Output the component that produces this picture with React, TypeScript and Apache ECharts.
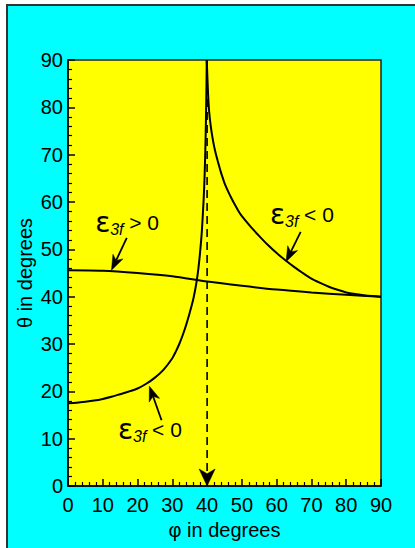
import { useEffect, useRef } from "react";
import * as echarts from "echarts";

// Axis range shared by φ and θ (degrees)
const AXIS_MIN = 0;
const AXIS_MAX = 90;
const AXIS_STEP = 10;

// Branch of ε3f = 0 starting at low θ and rising to the asymptote
const lowerPhi = [0, 2.5, 5, 7.5, 10, 12.5, 15, 17.5, 20, 22.5, 25, 27.5, 30, 31, 32, 33, 34, 35, 36, 36.5, 37, 37.5, 38, 38.5, 39, 39.3, 39.55, 39.75, 39.9];
const lowerTheta = [17.5, 17.6, 17.8, 18.05, 18.4, 18.85, 19.4, 19.95, 20.6, 21.6, 22.9, 24.6, 27.0, 28.4, 30.0, 31.9, 34.1, 36.6, 39.4, 41.2, 43.3, 46.0, 49.5, 54.0, 60.5, 66.0, 73.0, 81.0, 90.0];

// Branch falling from the asymptote towards φ = 90
const upperPhi = [39.9, 40.1, 40.3, 40.6, 41, 41.5, 42, 42.5, 43, 43.5, 44, 44.5, 45, 46, 47, 48, 49, 50, 52.5, 55, 57.5, 60, 62.5, 65, 67.5, 70, 72.5, 75, 77.5, 80, 82.5, 85, 87.5, 90];
const upperTheta = [90, 86, 82.5, 79, 76.3, 73.8, 71.8, 70.2, 68.8, 67.5, 66.2, 65.1, 64, 62.3, 60.8, 59.4, 58.1, 57, 54.8, 52.8, 50.9, 49.2, 47.7, 46.3, 45.0, 43.8, 42.9, 42.1, 41.45, 40.9, 40.55, 40.3, 40.12, 40];

// Nearly flat boundary
const flatPhi = [0, 10, 20, 30, 40, 50, 60, 70, 80, 90];
const flatTheta = [45.6, 45.5, 45.0, 44.3, 43.2, 42.3, 41.5, 40.9, 40.4, 40.0];

// Critical angle marked by the dashed arrow
const criticalPhi = 40;

// Region labels: anchor [φ, θ] of the ε glyph and the sign shown
const labelPhi = [7.8, 14.4, 58.1];
const labelTheta = [55.6, 11.9, 57.3];
const labelSign = [">", "<", "<"];

// Pointer arrows from each label to its curve
const arrowFromPhi = [16.9, 26.9, 66.9];
const arrowFromTheta = [52.4, 13.9, 53.7];
const arrowToPhi = [12.5, 23.4, 62.7];
const arrowToTheta = [45.6, 21.1, 47.4];

const FONT = '"Liberation Sans", Arial, sans-serif';

const pairs = (xs: number[], ys: number[]) => xs.map((x, i) => [x, ys[i]]);

function axisBase(name: string, nameGap: number, labelMargin: number) {
  return {
    type: "value" as const,
    min: AXIS_MIN,
    max: AXIS_MAX,
    interval: AXIS_STEP,
    name,
    nameLocation: "middle" as const,
    nameGap,
    nameMoveOverlap: false,
    nameTextStyle: { color: "#000", fontSize: 20, fontFamily: FONT },
    axisLine: { show: true, onZero: false, lineStyle: { color: "#000", width: 1.5 } },
    axisTick: { show: true, inside: true, length: 7, lineStyle: { color: "#000", width: 1.5 } },
    minorTick: { show: true, splitNumber: 5, length: 4, lineStyle: { color: "#000", width: 1.2 } },
    splitLine: { show: false },
    minorSplitLine: { show: false },
    axisLabel: { color: "#000", fontSize: 20, fontFamily: FONT, margin: labelMargin },
  };
}

function arrowGraphics(p0: number[], p1: number[], headW: number, headL: number, dashed: boolean) {
  const dx = p1[0] - p0[0];
  const dy = p1[1] - p0[1];
  const len = Math.hypot(dx, dy) || 1;
  const ux = dx / len;
  const uy = dy / len;
  const px = -uy;
  const py = ux;
  const bx = p1[0] - ux * headL;
  const by = p1[1] - uy * headL;
  const nx = p1[0] - ux * headL * 0.72;
  const ny = p1[1] - uy * headL * 0.72;
  return [
    {
      type: "line",
      z: 50,
      shape: { x1: p0[0], y1: p0[1], x2: nx, y2: ny },
      style: { stroke: "#000", lineWidth: dashed ? 1.6 : 1.8, lineDash: dashed ? [8, 5] : null },
    },
    {
      type: "polygon",
      z: 51,
      shape: {
        points: [
          [p1[0], p1[1]],
          [bx + (px * headW) / 2, by + (py * headW) / 2],
          [nx, ny],
          [bx - (px * headW) / 2, by - (py * headW) / 2],
        ],
      },
      style: { fill: "#000", stroke: "#000", lineWidth: 0.5 },
    },
  ];
}

export default function App() {
  const ref = useRef<HTMLDivElement>(null);

  useEffect(() => {
    document.body.style.margin = "0";
    if (!ref.current) return;
    const chart = echarts.init(ref.current, undefined, { renderer: "svg" });

    const curve = (xs: number[], ys: number[]) => ({
      type: "line",
      data: pairs(xs, ys),
      showSymbol: false,
      smooth: 0.25,
      lineStyle: { color: "#000", width: 2 },
      z: 10,
    });

    chart.setOption({
      animation: false,
      backgroundColor: "#00ffff",
      grid: {
        left: 68,
        top: 60,
        right: 34,
        bottom: 62,
        show: true,
        backgroundColor: "#ffff00",
        borderColor: "#222",
        borderWidth: 1.5,
      },
      xAxis: axisBase("φ in degrees", 34, 9),
      yAxis: axisBase("θ in degrees", 33, 5),
      series: [
        curve(lowerPhi, lowerTheta),
        curve(upperPhi, upperTheta),
        curve(flatPhi, flatTheta),
      ],
    });

    const toPx = (phi: number, theta: number) =>
      chart.convertToPixel({ gridIndex: 0 }, [phi, theta]) as number[];

    const graphics: any[] = [
      // page frame
      { type: "rect", z: 60, shape: { x: 0, y: 0, width: 415, height: 4 }, style: { fill: "#fff" } },
      { type: "rect", z: 60, shape: { x: 0, y: 0, width: 6, height: 548 }, style: { fill: "#fff" } },
      { type: "line", z: 61, shape: { x1: 6, y1: 5, x2: 415, y2: 5 }, style: { stroke: "#333", lineWidth: 2 } },
      { type: "line", z: 61, shape: { x1: 7, y1: 4, x2: 7, y2: 548 }, style: { stroke: "#333", lineWidth: 2 } },
    ];

    // dashed arrow at the critical angle
    graphics.push(
      ...arrowGraphics(toPx(criticalPhi, AXIS_MAX), toPx(criticalPhi, AXIS_MIN), 16, 17, true)
    );

    const txt = (x: number, y: number, text: string, font: string) => ({
      type: "text",
      x,
      y,
      style: {
        text,
        fill: "#000",
        font,
        textAlign: "left",
        textVerticalAlign: "middle",
        align: "left",
        verticalAlign: "middle",
      },
    });

    labelPhi.forEach((phi, i) => {
      const [x, y] = toPx(phi, labelTheta[i]);
      graphics.push({
        type: "group",
        x,
        y,
        z: 55,
        children: [
          txt(0, 0, "ε", '28px "DejaVu Sans", sans-serif'),
          txt(15, 7, "3f", `italic 16px ${FONT}`),
          txt(34, 0, `${labelSign[i]} 0`, `21px ${FONT}`),
        ],
      });
      graphics.push(
        ...arrowGraphics(
          toPx(arrowFromPhi[i], arrowFromTheta[i]),
          toPx(arrowToPhi[i], arrowToTheta[i]),
          11,
          15,
          false
        )
      );
    });

    chart.setOption({ graphic: graphics });

    return () => chart.dispose();
  }, []);

  return <div ref={ref} style={{ width: 415, height: 548 }} />;
}
